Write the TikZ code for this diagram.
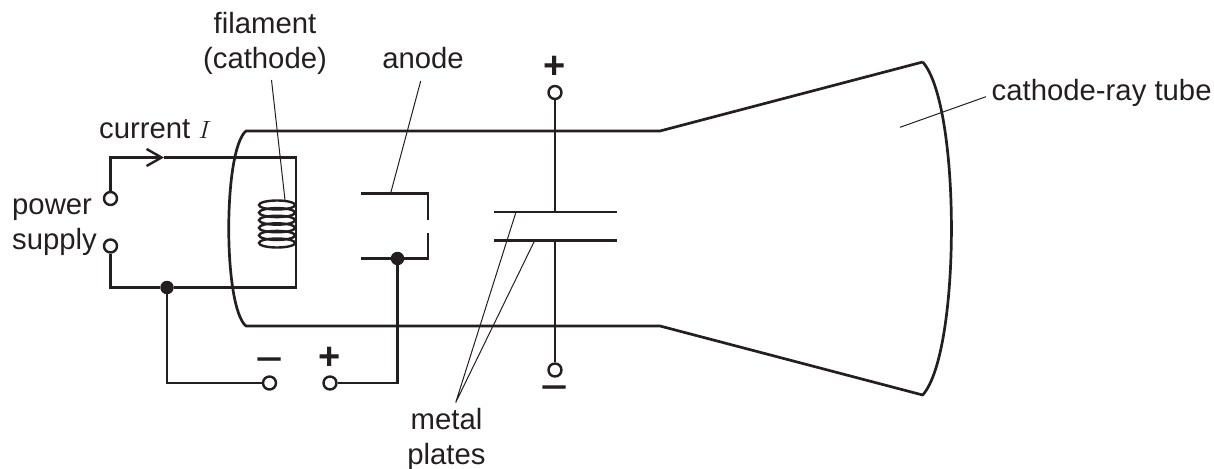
\documentclass[tikz,border=0pt]{standalone}
\usepackage{fontspec}
\setmainfont{Liberation Sans}
\usetikzlibrary{positioning}
\usetikzlibrary{arrows.meta}
\usetikzlibrary{shapes.geometric}
\definecolor{inkblack}{HTML}{231F20}
\tikzset{
  wire/.style= {
    draw = inkblack,
    line width = 2.7pt,
    line join = miter
  },
  leader/.style= {
    draw = inkblack,
    line width = 1pt
  },
  terminal/.style= {
    circle,
    draw = inkblack,
    fill = white,
    line width = 2.4pt,
    minimum size = 13pt,
    inner sep = 0pt
  },
  junction/.style= {
    circle,
    fill = inkblack,
    minimum size = 13.5pt,
    inner sep = 0pt
  },
  coilturn/.style= {
    ellipse,
    draw = inkblack,
    line width = 2.4pt,
    minimum width = 36pt,
    minimum height = 9pt,
    inner sep = 0pt
  },
  caption/.style= {
    font = \fontsize{29.3}{35}\selectfont,
    text = inkblack,
    align = center,
    inner sep = 0pt
  },
  polarity/.style= {
    font = \fontsize{38}{38}\selectfont\bfseries,
    text = inkblack,
    inner sep = 0pt,
    anchor = base
  },
  negative/.style= {
    font = \fontsize{48}{48}\selectfont,
    text = inkblack,
    inner sep = 0pt,
    anchor = base
  }
}
\begin{document}
\begin{tikzpicture}[x=1pt,y=-1pt]
  \useasboundingbox (0,0) rectangle (1214,468);

  \coordinate (tubetl) at (246,131);
  \coordinate (tubebl) at (246,326);
  \coordinate (necktop) at (660,131);
  \coordinate (neckbot) at (660,326);
  \coordinate (screentop) at (922.7,62);
  \coordinate (screenbot) at (922.7,395);
  \draw[wire,line join=round] (screentop) -- (necktop) -- (tubetl)
    .. controls (223,150) and (223,307) .. (tubebl) -- (neckbot) -- (screenbot)
    .. controls (961,352) and (961,105) .. (screentop);

  \node[terminal] (supplytop) at (110.5,198.5) {};
  \node[terminal] (supplybot) at (110.5,246) {};
  \node[junction] (supplydot) at (167,287.5) {};
  \node[terminal] (anodeneg) at (269.5,383) {};
  \node[terminal] (anodepos) at (330,383) {};
  \node[junction] (anodedot) at (397.5,258.5) {};
  \node[terminal] (plateneg) at (555,370) {};
  \node[terminal] (platepos) at (555,92.5) {};

  \coordinate (wiretl) at (110.5,157.5);
  \coordinate (wiretr) at (296,157.5);
  \coordinate (wirebr) at (296,287.5);
  \coordinate (currenttip) at (164,157.5);
  \draw[wire,-{Straight Barb[length=15pt,width=17pt,line width=2.4pt]}] (supplytop) -- (wiretl) -- (currenttip);
  \draw[wire] (currenttip) -- (wiretr) -- (wirebr) -- (supplydot) -| (supplybot);
  \draw[wire] (supplydot) |- (anodeneg);
  \draw[wire] (anodepos) -| (anodedot);

  \foreach \turn in {0,...,5}
    \node[coilturn] (coil\turn) at (277,205+7.6*\turn) {};

  \coordinate (anodetopl) at (361,193.5);
  \coordinate (anodetopr) at (428,193.5);
  \coordinate (anodegapa) at (428,219.5);
  \coordinate (anodegapb) at (428,232.5);
  \coordinate (anodebotr) at (428,258.5);
  \coordinate (anodebotl) at (361,258.5);
  \draw[wire] (anodetopl) -- (anodetopr) -- (anodegapa);
  \draw[wire] (anodegapb) -- (anodebotr) -- (anodebotl);

  \coordinate (platetopl) at (493.5,212);
  \coordinate (platetopr) at (617,212);
  \coordinate (platebotl) at (493.5,240.5);
  \coordinate (platebotr) at (617,240.5);
  \coordinate (platetopm) at (555,212);
  \coordinate (platebotm) at (555,240.5);
  \draw[wire] (platetopl) -- (platetopr);
  \draw[wire] (platebotl) -- (platebotr);
  \draw[wire] (platepos) -- (platetopm);
  \draw[wire] (platebotm) -- (plateneg);

  \node[caption,anchor=base] (cathodelabel) at (265,69) {filament\\(cathode)};
  \node[caption,anchor=base] (anodelabel) at (423,69) {anode};
  \node[caption,anchor=base west] (currentlabel) at (99,139) {current $I$};
  \node[caption,anchor=base west,align=left] (supplylabel) at (12,249.5) {power\\supply};
  \node[caption,anchor=base] (plateslabel) at (446.5,464) {metal\\plates};
  \node[caption,anchor=base west] (tubelabel) at (991.5,100.7) {cathode-ray tube};

  \node[polarity] (platepluslabel) at (555,79) {+};
  \node[negative] (plateminuslabel) at (555,403.7) {\char"2212};
  \node[polarity] (anodepluslabel) at (330,369) {+};
  \node[negative] (anodeminuslabel) at (269.5,375) {\char"2212};

  \coordinate (cathodefrom) at (271.5,80);
  \coordinate (cathodeto) at (285,200);
  \coordinate (anodefrom) at (420.7,81);
  \coordinate (anodeto) at (390.7,193);
  \coordinate (platesfrom) at (455.7,402.5);
  \coordinate (platesupper) at (516,212);
  \coordinate (plateslower) at (534.7,240.5);
  \coordinate (tubefrom) at (986,96.7);
  \coordinate (tubeto) at (900,127.3);
  \draw[leader] (cathodefrom) -- (cathodeto);
  \draw[leader] (anodefrom) -- (anodeto);
  \draw[leader] (platesupper) -- (platesfrom) -- (plateslower);
  \draw[leader] (tubefrom) -- (tubeto);
\end{tikzpicture}
\end{document}
